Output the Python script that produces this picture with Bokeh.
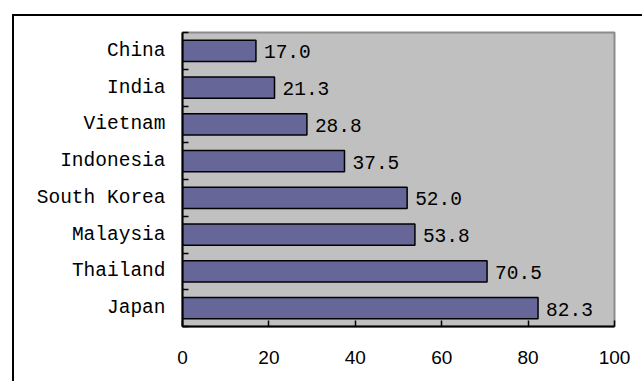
from bokeh.plotting import figure
from bokeh.models import Range1d, FixedTicker, ColumnDataSource
from bokeh.core.properties import value
from bokeh.embed import file_html
from bokeh.resources import INLINE

# Countries listed top to bottom, with their values
countries = ["China", "India", "Vietnam", "Indonesia", "South Korea", "Malaysia", "Thailand", "Japan"]
values = [17.0, 21.3, 28.8, 37.5, 52.0, 53.8, 70.5, 82.3]
x_ticks = [0, 20, 40, 60, 80, 100]

MONO = "Liberation Mono"
SANS = "Liberation Sans"
n = len(countries)

# first country at the top: slot centres run downward from n-0.5
ys = [n - 0.5 - i for i in range(n)]
src = ColumnDataSource(dict(
    y=ys,
    v=values,
    label=[f"{v:.1f}" for v in values],
))

p = figure(
    width=630, height=367,
    x_range=Range1d(0, 100), y_range=Range1d(0, n),
    output_backend="svg", toolbar_location=None,
    min_border_left=168, min_border_right=30,
    min_border_top=16, min_border_bottom=57,
)
# chart frame: only its top and left edges fall inside the page
p.styles = {
    "margin-left": "12px",
    "margin-top": "14px",
    "border-top": "2px solid black",
    "border-left": "2px solid black",
}
p.background_fill_color = "#C0C0C0"
p.border_fill_color = "white"
p.outline_line_color = "#8C8C8C"
p.outline_line_width = 2
p.xgrid.visible = False
p.ygrid.visible = False

p.hbar(y="y", left=0, right="v", height=0.58, source=src,
       fill_color="#666699", line_color="black", line_width=1.5)

p.text(x="v", y="y", text="label", source=src, x_offset=8, y_offset=1,
       text_baseline="middle", text_align="left",
       text_font=value(MONO), text_font_size="19.5px", text_color="black")

# x axis: ticks pointing into the plot
p.xaxis.ticker = FixedTicker(ticks=x_ticks)
p.xaxis.axis_line_color = "black"
p.xaxis.axis_line_width = 2
p.xaxis.major_tick_in = 6
p.xaxis.major_tick_out = 0
p.xaxis.major_tick_line_color = "black"
p.xaxis.major_tick_line_width = 1.5
p.xaxis.minor_tick_line_color = None
p.xaxis.major_label_standoff = 24
p.xaxis.major_label_text_font = SANS
p.xaxis.major_label_text_font_size = "19px"
p.xaxis.major_label_text_color = "black"

# y axis: names at slot centres, short ticks on slot boundaries
p.yaxis.ticker = FixedTicker(ticks=ys, minor_ticks=list(range(n + 1)))
p.yaxis.major_label_overrides = {y: c for y, c in zip(ys, countries)}
p.yaxis.axis_line_color = "black"
p.yaxis.axis_line_width = 2
p.yaxis.major_tick_in = 0
p.yaxis.major_tick_out = 0
p.yaxis.minor_tick_in = 6
p.yaxis.minor_tick_out = 0
p.yaxis.minor_tick_line_color = "black"
p.yaxis.minor_tick_line_width = 1.5
p.yaxis.major_label_standoff = 17
p.yaxis.major_label_text_font = MONO
p.yaxis.major_label_text_font_size = "19.5px"
p.yaxis.major_label_text_color = "black"

open("out.html", "w").write(file_html(p, INLINE))
